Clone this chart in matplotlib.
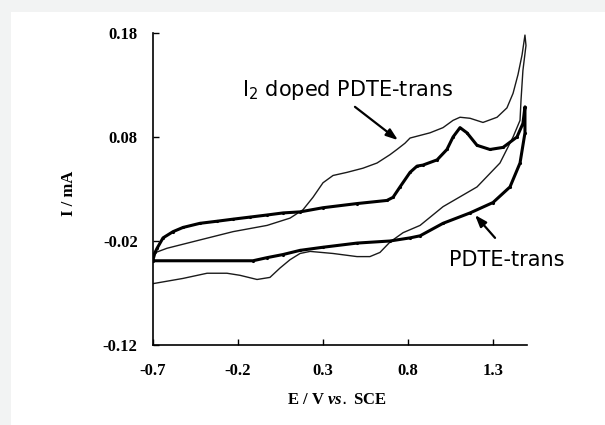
import matplotlib.pyplot as plt
from matplotlib.patches import Rectangle

plt.rcParams['mathtext.fontset'] = 'custom'
plt.rcParams['mathtext.rm'] = 'DejaVu Sans'
plt.rcParams['mathtext.it'] = 'Liberation Serif:italic:bold'

# PDTE-trans (thick curve): forward sweep then return sweep
pdte_x = [-0.700, -0.688, -0.676, -0.641, -0.582, -0.524, -0.424, -0.324, -0.229, -0.129,
          -0.029, 0.065, 0.165, 0.300, 0.500, 0.676, 0.712, 0.753, 0.812, 0.853,
          0.888, 0.971, 1.029, 1.065, 1.106, 1.147, 1.206, 1.282, 1.359, 1.441,
          1.476, 1.488,
          1.488, 1.459, 1.400, 1.300, 1.165, 1.006, 0.871, 0.812, 0.694, 0.500,
          0.300, 0.165, 0.065, -0.029, -0.112, -0.700]
pdte_y = [-0.038, -0.031, -0.027, -0.017, -0.011, -0.007, -0.003, -0.001, 0.001, 0.003,
          0.005, 0.007, 0.008, 0.012, 0.016, 0.019, 0.022, 0.032, 0.046, 0.052,
          0.053, 0.058, 0.068, 0.080, 0.089, 0.084, 0.072, 0.068, 0.070, 0.080,
          0.093, 0.109,
          0.084, 0.055, 0.032, 0.017, 0.007, -0.003, -0.015, -0.017, -0.020, -0.022,
          -0.026, -0.029, -0.033, -0.036, -0.039, -0.039]

# I2 doped PDTE-trans (thin curve)
doped_x = [-0.700, -0.618, -0.424, -0.229, -0.029, 0.106, 0.182, 0.241, 0.300, 0.359,
           0.441, 0.535, 0.618, 0.694, 0.735, 0.782, 0.812, 0.929, 1.006, 1.065,
           1.106, 1.165, 1.241, 1.324, 1.382, 1.418, 1.447, 1.471, 1.488,
           1.494, 1.476, 1.465, 1.459, 1.418, 1.341, 1.206, 1.006, 0.871, 0.771,
           0.694, 0.635, 0.576, 0.500, 0.359, 0.224, 0.165, 0.106, 0.047, -0.012,
           -0.088, -0.188, -0.265, -0.382, -0.524, -0.700]
doped_y = [-0.032, -0.027, -0.019, -0.011, -0.005, 0.002, 0.010, 0.022, 0.036, 0.043,
           0.046, 0.050, 0.055, 0.063, 0.068, 0.074, 0.079, 0.084, 0.089, 0.096,
           0.099, 0.098, 0.094, 0.099, 0.108, 0.122, 0.140, 0.159, 0.178,
           0.168, 0.144, 0.116, 0.096, 0.080, 0.055, 0.032, 0.013, -0.005, -0.012,
           -0.021, -0.031, -0.035, -0.035, -0.032, -0.030, -0.032, -0.038, -0.046, -0.055,
           -0.057, -0.053, -0.051, -0.051, -0.056, -0.061]

x_ticks = [-0.7, -0.2, 0.3, 0.8, 1.3]
y_ticks = [-0.12, -0.02, 0.08, 0.18]

fig = plt.figure(figsize=(6.05, 4.25), dpi=100)
fig.patch.set_facecolor('#f2f3f3')
fig.add_artist(Rectangle((11 / 605, 0), 1, (425 - 12) / 425, transform=fig.transFigure,
                         facecolor='white', edgecolor='none', zorder=-10))

ax = fig.add_axes([153 / 605, 80 / 425, 374 / 605, 312 / 425])
ax.set_facecolor('white')

ax.plot(doped_x, doped_y, color='#1a1a1a', lw=1.0)
ax.plot(pdte_x, pdte_y, color='black', lw=2.2, marker='.', markersize=2.5)

ax.set_xlim(-0.7, 1.5)
ax.set_ylim(-0.12, 0.18)
ax.set_xticks(x_ticks)
ax.set_yticks(y_ticks)
ax.set_xticklabels([f'{v:.1f}' for v in x_ticks])
ax.set_yticklabels([f'{v:.2f}' for v in y_ticks])
ax.tick_params(direction='in', length=4, width=1, labelsize=12)
ax.tick_params(axis='y', pad=11)
ax.tick_params(axis='x', pad=13)
for lab in ax.get_xticklabels() + ax.get_yticklabels():
    lab.set_fontfamily('Liberation Serif')
    lab.set_fontweight('bold')

ax.spines['top'].set_visible(False)
ax.spines['right'].set_visible(False)
ax.spines['left'].set_linewidth(1.2)
ax.spines['bottom'].set_linewidth(1.2)

ax.set_xlabel(r'E / V $\mathit{vs.}$ SCE', fontfamily='Liberation Serif',
              fontweight='bold', fontsize=12)
ax.xaxis.set_label_coords(0.492, -0.151)
ax.set_ylabel('I / mA', fontfamily='Liberation Serif', fontweight='bold', fontsize=12)
ax.yaxis.set_label_coords(-0.203, 0.487)

arrow = dict(arrowstyle='-|>,head_length=0.7,head_width=0.25', color='black', lw=1.6,
             shrinkA=0, shrinkB=0)
ax.text(0.447, 0.125, r'I$_2$ doped PDTE-trans', fontsize=15, fontfamily='DejaVu Sans',
        ha='center', va='center')
ax.annotate('', xy=(0.741, 0.077), xytext=(0.488, 0.109), arrowprops=arrow)
ax.text(1.38, -0.038, 'PDTE-trans', fontsize=15, fontfamily='DejaVu Sans',
        ha='center', va='center', clip_on=False)
ax.annotate('', xy=(1.194, 0.005), xytext=(1.312, -0.017), arrowprops=arrow)

fig.savefig('out.png', dpi=100, facecolor=fig.get_facecolor())
